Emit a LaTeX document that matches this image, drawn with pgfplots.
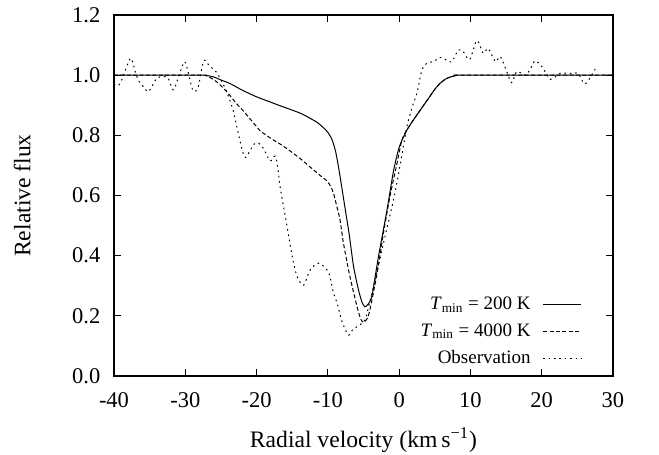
\documentclass[border=0pt]{standalone}
\usepackage{fontspec}
\setmainfont{Liberation Serif}
\usepackage{pgfplots}
\usepackage{pgfplotstable}
\pgfplotsset{compat=1.18}

\pgfplotstableread{
v f
-40 1.0
-28 1.0
-27 0.999
-26 0.994
-25 0.984
-24 0.975
-23.3 0.967
-22 0.95
-20 0.928
-18 0.91
-16.2 0.894
-14 0.875
-12.9 0.862
-11.5 0.843
-10.6 0.825
-10 0.81
-9.4 0.785
-8.9 0.745
-8.4 0.68
-7.6 0.56
-7.0 0.47
-6.4 0.365
-5.7 0.286
-5.2 0.245
-4.8 0.23
-4.3 0.24
-3.8 0.268
-2.9 0.397
-1.7 0.552
-0.8 0.68
0.0 0.76
1.1 0.818
2.0 0.851
3.0 0.885
4.3 0.929
5.0 0.953
5.75 0.973
6.5 0.987
7.2 0.994
8 0.999
9 1.0
30 1.0
}\tablecold

\pgfplotstableread{
v f
-40 1.0
-28 1.0
-27 0.997
-26 0.985
-25 0.965
-24 0.94
-22.8 0.905
-22 0.885
-20 0.829
-19.5 0.815
-18 0.79
-16.3 0.765
-14 0.725
-12 0.685
-11 0.665
-10.1 0.648
-9.6 0.63
-9.2 0.607
-8.7 0.56
-8.3 0.52
-7.8 0.44
-6.9 0.33
-5.9 0.23
-5.4 0.19
-5.0 0.178
-4.5 0.19
-4.1 0.22
-3.1 0.34
-2.2 0.475
-1.3 0.596
-0.3 0.707
0.4 0.785
1.1 0.818
2.0 0.851
3.0 0.885
4.3 0.929
5.0 0.953
5.75 0.973
6.5 0.987
7.2 0.994
8 0.999
9 1.0
30 1.0
}\tablehot

\pgfplotstableread{
v f
-40 0.97
-39.4 0.965
-38.8 0.99
-38.2 1.03
-37.6 1.056
-37.0 1.01
-36.5 0.98
-35.8 0.96
-35.2 0.945
-34.5 0.97
-34.0 0.99
-33.2 0.995
-32.4 0.99
-31.7 0.951
-31.0 0.99
-30.1 1.045
-29.5 1.0
-28.9 0.948
-28.2 0.96
-27.4 1.048
-26.6 1.03
-25.8 1.015
-25.0 0.985
-24.2 0.945
-23.3 0.884
-22.5 0.80
-21.7 0.728
-21.0 0.745
-20.4 0.770
-19.7 0.774
-19.0 0.755
-18.1 0.715
-17.4 0.731
-17.0 0.69
-16.7 0.629
-15.8 0.508
-15.0 0.397
-14.3 0.33
-13.4 0.302
-12.5 0.352
-11.3 0.375
-10.1 0.352
-9.7 0.33
-9.2 0.275
-8.7 0.242
-8.0 0.18
-7.1 0.136
-6.5 0.155
-5.9 0.164
-4.8 0.186
-4.2 0.24
-3.6 0.297
-2.2 0.441
-0.8 0.585
0.1 0.696
1.1 0.829
2.0 0.906
2.5 0.94
3.2 1.017
3.9 1.04
4.8 1.045
5.75 1.059
6.5 1.052
7.4 1.045
8.3 1.084
9.0 1.078
9.9 1.052
10.9 1.115
11.8 1.073
12.5 1.089
13.5 1.045
14.2 1.062
15.1 1.012
15.8 0.975
16.5 1.012
17.7 1.0
18.4 1.02
19.1 1.048
20.2 1.023
21.2 0.986
22.6 1.006
24.0 1.006
25.1 1.006
26.1 0.971
27.5 1.02
}\tableobs

\begin{document}
\begin{tikzpicture}
\useasboundingbox (0,0) rectangle (329.5pt,227.5pt);
\begin{axis}[
  at={(57pt,39.5pt)}, anchor=south west,
  scale only axis, width=249.5pt, height=180.5pt,
  xmin=-40, xmax=30, ymin=0, ymax=1.2,
  xtick={-40,-30,-20,-10,0,10,20,30},
  xticklabels={-40,-30,-20,-10,0,10,20,30},
  ytick={0,0.2,0.4,0.6,0.8,1.0,1.2},
  yticklabels={0.0,0.2,0.4,0.6,0.8,1.0,1.2},
  tick align=inside, major tick length=3.5pt,
  tick style={black, line width=0.6pt},
  axis line style={line width=0.7pt},
  ticklabel style={font=\fontsize{11.25}{13}\selectfont},
  xticklabel style={yshift=-4.5pt},
  yticklabel style={xshift=-3.3pt},
  xlabel={Radial velocity (km\,s\textsuperscript{−1})},
  ylabel={Relative flux},
  every axis x label/.style={at={(axis description cs:0.5,-0.177)}, anchor=center, font=\fontsize{11.8}{14}\selectfont},
  every axis y label/.style={at={(axis description cs:-0.184,0.5)}, rotate=90, anchor=center, font=\fontsize{11.8}{14}\selectfont},
  legend cell align=right,
  legend plot pos=right,
  legend image code/.code={\draw[#1] (0pt,0pt) -- (19pt,0pt);},
  legend style={draw=none, fill=none, anchor=south east,
    at={(axis description cs:0.95,0.003)},
    font=\fontsize{9.5}{11}\selectfont, column sep=4pt, row sep=1.5pt},
]
\addplot[black, line width=0.5pt, smooth, tension=0.4] table[x=v,y=f] {\tablecold};
\addlegendentry{\textit{T}\textsubscript{min} = 200 K}
\addplot[black, line width=0.5pt, dash pattern=on 2pt off 1.2pt, smooth, tension=0.4] table[x=v,y=f] {\tablehot};
\addlegendentry{\textit{T}\textsubscript{min} = 4000 K}
\addplot[black, line width=0.5pt, dash pattern=on 0.8pt off 1.9pt, smooth, tension=0.5] table[x=v,y=f] {\tableobs};
\addlegendentry{Observation}
\end{axis}
\end{tikzpicture}
\end{document}
